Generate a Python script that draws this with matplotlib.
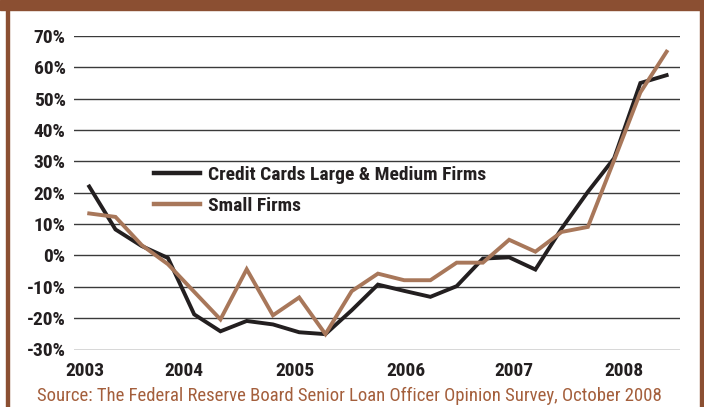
import numpy as np
import matplotlib.pyplot as plt
from matplotlib import font_manager
from matplotlib.patches import Rectangle
from matplotlib.lines import Line2D

# Net % of banks tightening standards, quarterly 2003Q1 - 2008Q3
quarters = np.arange(23)
credit_cards = [22, 8.3, 3, -0.8, -18.8, -24.2, -20.9, -22, -24.5, -25.1, -17.5, -9.3,
                -11.3, -13.2, -9.8, -1, -0.6, -4.5, 8.6, 20.3, 31, 55, 57.5]
small_firms = [13.4, 12.3, 3.3, -2.8, -11.6, -20.4, -4.4, -19.1, -13.4, -25.1, -11.4, -5.8,
               -7.9, -7.9, -2.3, -2.3, 5, 1.2, 7.5, 9.1, 30.4, 52, 65]
years = ['2003', '2004', '2005', '2006', '2007', '2008']
year_pos = [-0.16, 3.61, 7.84, 12.06, 16.18, 20.37]
yticks = np.arange(-30, 71, 10)


def narrow_family():
    # first condensed family that has a real bold face
    fonts = font_manager.fontManager.ttflist
    for name in ['Roboto Condensed', 'PT Sans Narrow', 'Asap Condensed', 'Barlow Condensed']:
        if any(f.name == name and f.weight in (700, 'bold') for f in fonts):
            return name
    return 'DejaVu Sans'


font = [narrow_family(), 'DejaVu Sans']

frame_brown = '#8B4F32'
line_brown = '#A8775A'
ink = '#231F20'

W, H = 704, 407
fig = plt.figure(figsize=(W / 100, H / 100), dpi=100)

# brown frame: top band and thin side rules
fig.patches.append(Rectangle((0, 1 - 10 / H), 1, 10 / H, transform=fig.transFigure,
                             color=frame_brown, zorder=0))
fig.patches.append(Rectangle((6 / W, 0), 3 / W, 1, transform=fig.transFigure,
                             color=frame_brown, zorder=0))
fig.patches.append(Rectangle((700 / W, 0), 3 / W, 1, transform=fig.transFigure,
                             color=frame_brown, zorder=0))

ax = fig.add_axes([74 / W, 57.5 / H, 606 / W, 313.5 / H])
for y in yticks:
    ax.axhline(y, color='#3a3a3a', lw=1.0, zorder=1)

ax.plot(quarters, small_firms, color=line_brown, lw=2.8, solid_joinstyle='miter', zorder=3)
ax.plot(quarters, credit_cards, color=ink, lw=2.8, solid_joinstyle='miter', zorder=2)

ax.set_xlim(-0.58, 22.51)
ax.set_ylim(-30, 70)
for s in ax.spines.values():
    s.set_visible(False)

ax.set_yticks(yticks)
ax.set_yticklabels([f'{v}%' for v in yticks], family=font, weight='bold',
                   fontsize=14, color=ink)
ax.set_xticks(year_pos)
ax.set_xticklabels(years, family=font, weight='bold', fontsize=14, color=ink)
ax.tick_params(axis='y', length=0, pad=6)
ax.tick_params(axis='x', length=0, pad=9)

handles = [Line2D([], [], color=ink, lw=3.2),
           Line2D([], [], color=line_brown, lw=3.2)]
ax.legend(handles, ['Credit Cards Large & Medium Firms', 'Small Firms'],
          loc='upper left', bbox_to_anchor=(154 / W, 1 - 166 / H),
          bbox_transform=fig.transFigure, frameon=False, handlelength=2.37,
          handletextpad=0.41, labelspacing=0.68, borderpad=0, borderaxespad=0,
          prop={'family': font, 'weight': 'bold', 'size': 14}, labelcolor=ink)

fig.text(349 / W, 1 - 396 / H,
         'Source: The Federal Reserve Board Senior Loan Officer Opinion Survey, October 2008',
         ha='center', va='center', family=font, fontsize=13.5, color='#A45F3C')

fig.savefig('out.png', dpi=100)
